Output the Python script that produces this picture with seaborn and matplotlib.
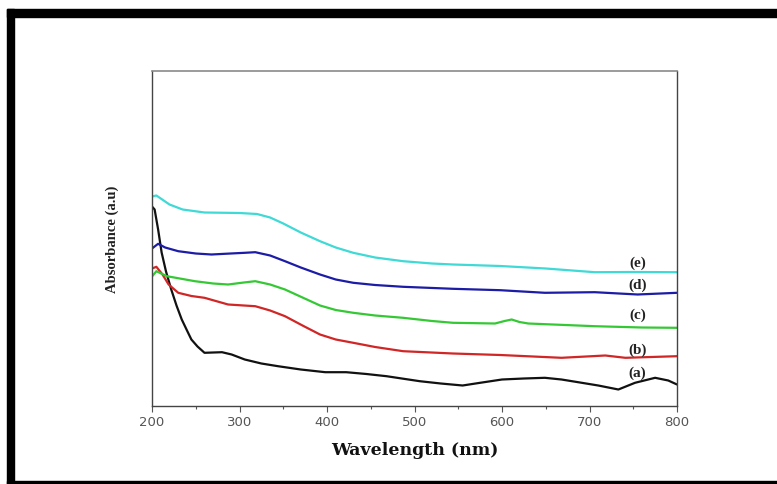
import numpy as np
import pandas as pd
import matplotlib
matplotlib.use("Agg")
import matplotlib.pyplot as plt
from matplotlib.patches import Rectangle
from matplotlib.ticker import MultipleLocator
import seaborn as sns

# ---- data (absorbance in arbitrary units) ----
wl_a = [200, 203, 207, 211, 216, 222, 228, 234, 240, 245, 252, 260, 270, 280, 291, 306, 325, 344, 370, 398,
        422, 445, 468, 506, 530, 555, 575, 600, 625, 649, 668, 687, 710, 733, 752, 775, 790, 800]
ab_a = [1.99, 1.96, 1.76, 1.53, 1.34, 1.16, 1.00, 0.86, 0.75, 0.66, 0.59, 0.527, 0.53, 0.533, 0.51, 0.46, 0.42,
        0.393, 0.36, 0.333, 0.333, 0.315, 0.293, 0.243, 0.22, 0.20, 0.227, 0.26, 0.27, 0.277, 0.26, 0.233, 0.20,
        0.16, 0.227, 0.277, 0.25, 0.21]

wl_b = [200, 205, 212, 219, 230, 245, 260, 287, 305, 318, 335, 352, 372, 392, 410, 430, 455, 487, 544, 598,
        668, 718, 741, 800]
ab_b = [1.37, 1.387, 1.31, 1.21, 1.127, 1.095, 1.077, 1.01, 1.00, 0.993, 0.95, 0.893, 0.80, 0.71, 0.66, 0.627,
        0.585, 0.543, 0.52, 0.505, 0.477, 0.50, 0.477, 0.493]

wl_c = [200, 205, 217, 235, 249, 270, 287, 305, 318, 335, 352, 372, 392, 410, 430, 455, 487, 520, 544, 592,
        603, 611, 620, 630, 706, 760, 800]
ab_c = [1.29, 1.343, 1.293, 1.265, 1.243, 1.22, 1.21, 1.23, 1.243, 1.21, 1.16, 1.08, 1.00, 0.955, 0.927, 0.90,
        0.877, 0.845, 0.827, 0.82, 0.845, 0.86, 0.835, 0.82, 0.793, 0.78, 0.777]

wl_d = [200, 207, 215, 230, 250, 268, 290, 306, 318, 335, 352, 370, 392, 410, 430, 455, 487, 544, 598, 649,
        706, 755, 800]
ab_d = [1.57, 1.617, 1.58, 1.543, 1.52, 1.51, 1.52, 1.527, 1.533, 1.50, 1.443, 1.38, 1.31, 1.26, 1.227, 1.205,
        1.187, 1.167, 1.153, 1.127, 1.133, 1.11, 1.127]

wl_e = [200, 205, 210, 220, 235, 260, 300, 320, 335, 350, 370, 392, 410, 430, 455, 487, 520, 544, 598, 650,
        706, 750, 800]
ab_e = [2.09, 2.10, 2.07, 2.01, 1.96, 1.93, 1.925, 1.915, 1.88, 1.82, 1.73, 1.643, 1.58, 1.527, 1.48, 1.443,
        1.42, 1.41, 1.395, 1.37, 1.333, 1.335, 1.333]

series_names = ["(a)", "(b)", "(c)", "(d)", "(e)"]
label_y = [0.33, 0.56, 0.91, 1.21, 1.43]
x_ticks = [200, 300, 400, 500, 600, 700, 800]

frames = []
for name, wl, ab in zip(series_names, [wl_a, wl_b, wl_c, wl_d, wl_e], [ab_a, ab_b, ab_c, ab_d, ab_e]):
    frames.append(pd.DataFrame({"Wavelength": wl, "Absorbance": ab, "sample": name}))
df = pd.concat(frames, ignore_index=True)

palette = {"(a)": "#111111", "(b)": "#d02626", "(c)": "#35c835", "(d)": "#1c1ca6", "(e)": "#3fd9d6"}

sns.set_style("white")
plt.rcParams["font.family"] = ["DejaVu Sans"]

fig = plt.figure(figsize=(7.77, 4.85), dpi=100)
ax = fig.add_axes([152 / 777, 1 - 406.5 / 485, 525 / 777, (406.5 - 72) / 485])

sns.lineplot(data=df, x="Wavelength", y="Absorbance", hue="sample", palette=palette,
             linewidth=1.6, legend=False, ax=ax, sort=True, estimator=None,
             solid_joinstyle="round", solid_capstyle="round")

ax.set_xlim(200, 800)
ax.set_ylim(0, 3.345)
ax.set_xticks(x_ticks)
ax.set_xticklabels([str(t) for t in x_ticks])
ax.xaxis.set_minor_locator(MultipleLocator(50))
ax.set_yticks([])
ax.tick_params(axis="x", which="major", direction="out", length=4, width=0.8,
               colors="#555555", labelsize=9.5, pad=3, bottom=True)
ax.tick_params(axis="x", which="minor", direction="out", length=2.5, width=0.8,
               colors="#555555", bottom=True)
for s in ["left", "bottom", "right"]:
    ax.spines[s].set_color("#444444")
    ax.spines[s].set_linewidth(1.0)
ax.spines["top"].set_color("#8a8a8a")
ax.spines["top"].set_linewidth(1.2)

ax.set_xlabel("Wavelength (nm)", family=["DejaVu Serif"], fontweight="bold",
              fontsize=12.5, color="#111111", labelpad=9)
ax.set_ylabel("Absorbance (a.u)", family=["Liberation Serif"], fontweight="bold",
              fontsize=10.5, color="#222222", labelpad=24)

for name, yv in zip(series_names, label_y):
    ax.text(755, yv, name, family=["Liberation Serif"], fontweight="bold",
            fontsize=11, color="#222222", ha="center", va="center")

# outer black frame (top, left, bottom)
fig.patches.append(Rectangle((7 / 777, 1 - 17.5 / 485), 770 / 777, 7.5 / 485,
                             transform=fig.transFigure, color="black", zorder=10))
fig.patches.append(Rectangle((7 / 777, 0), 7 / 777, 1 - 10 / 485,
                             transform=fig.transFigure, color="black", zorder=10))
fig.patches.append(Rectangle((7 / 777, 0), 770 / 777, 3.5 / 485,
                             transform=fig.transFigure, color="black", zorder=10))

fig.savefig("out.png", dpi=100)
